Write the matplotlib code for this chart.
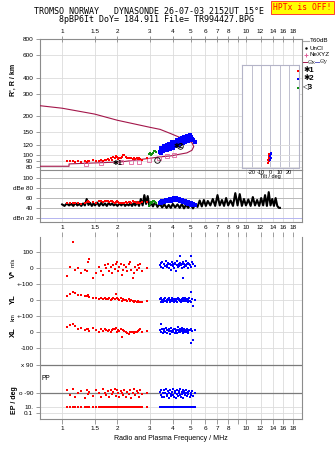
import matplotlib
matplotlib.use('Agg')
import matplotlib.pyplot as plt
from matplotlib.ticker import NullLocator
from matplotlib.lines import Line2D
import numpy as np

# ---------------- data ----------------
title1 = "TROMSO NORWAY   DYNASONDE 26-07-03 2152UT 15°E"
title2 = "8pBP6It DoY= 184.911 File= TR994427.BPG"
warn_text = "HPTx is OFF!"
xlabel = "Radio and Plasma Frequency / MHz"

freq_ticks = [1, 1.5, 2, 3, 4, 5, 6, 7, 8, 9, 10, 12, 14, 16, 18]
freq_labels_outer = ['1', '1.5', '2', '3', '4', '5', '6', '7', '8', '', '10', '12', '14', '16', '18']
freq_labels_mid = ['1', '1.5', '2', '3', '4', '5', '6', '7', '8', '9', '10', '12', '14', '16', '18']

r_ticks = [80, 90, 100, 120, 150, 200, 300, 400, 600, 800]
db_ticks = [20, 40, 60, 80, 100]
db_labels = ['dBn 20', '40', '60', 'dBe 80', '100']
tilt_ticks = [-20, -10, 0, 10, 20]

# model curve (upper branch, nose, lower branch)
curve_f = [0.75, 1.0, 1.5, 2.0, 3.0, 3.41, 3.87, 4.3, 4.77, 5.08, 5.2,
           5.08, 4.77, 4.3, 3.87, 3.41, 3.0, 2.07, 1.09, 1.09, 0.75]
curve_r = [242, 231, 208, 186, 164, 158, 147, 138, 131, 124.6, 116,
           108.5, 103.6, 100.8, 98, 96.5, 94, 88, 85, 81.5, 81.5]

nexyz_f = [1.35, 1.63, 2.09, 2.37, 2.63, 2.97, 3.37, 3.72, 4.05]
nexyz_r = [84.8, 86, 87.8, 88.7, 88.7, 91.3, 94, 97.9, 99.5]

# X1 (red) echoes
f_red = [1.06, 1.10, 1.14, 1.18, 1.22, 1.27, 1.33, 1.36, 1.38, 1.40,
         1.48, 1.52, 1.58, 1.62, 1.66, 1.70, 1.74, 1.77, 1.80, 1.84,
         1.87, 1.90, 1.93, 1.96, 1.99, 2.02, 2.05, 2.08, 2.11, 2.14,
         2.18, 2.22, 2.26, 2.30, 2.34, 2.38, 2.42, 2.46, 2.50, 2.54,
         2.58, 2.62, 2.66, 2.72, 2.88]
r_red = [89, 90, 89, 88, 89, 88, 90, 88, 89, 90,
         91, 90, 89, 91, 90, 92, 91, 93, 92, 94,
         92, 97, 95, 98, 96, 93, 95, 94, 96, 99,
         100, 97, 95, 94, 95, 94, 93, 94, 93, 94,
         93, 94, 93, 92, 95]
dbe_red = [49, 50, 49, 50, 49, 48, 50, 52, 53, 51,
           52, 50, 53, 54, 52, 55, 54, 53, 52, 54,
           53, 51, 50, 52, 53, 51, 50, 49, 50, 49,
           50, 51, 50, 52, 51, 50, 53, 52, 51, 50,
           51, 49, 50, 51, 52]
v_red = [-50, 10, 165, -10, 0, -30, -10, -20, 40, 60,
         -60, -30, 10, -20, -40, 20, 0, 30, -20, 10,
         -30, 20, -5, 30, 40, -20, 10, 30, -40, -10,
         20, 10, -20, 30, 40, -10, -60, -30, 10, -10,
         20, 0, 30, -20, 0]
yl_red = [25, 35, 52, 42, 31, 32, 28, 25, 30, 20,
          10, 15, 5, 10, 5, 12, 8, 5, 10, 0,
          8, 15, 5, 40, 10, 5, 0, 12, -5, 8,
          3, -2, -5, 5, -8, 0, -5, -10, -8, -12,
          -5, -15, -10, -12, -5]
xl_red = [30, 40, 50, 35, 20, 25, 10, 15, 20, 5,
          25, 10, 0, 15, 5, 20, 8, 5, 10, 0,
          10, 15, 20, 25, -5, 10, 5, 15, -35, 10,
          5, 0, -10, -15, -5, 0, -5, -10, -5, 0,
          5, 10, 20, 0, 5]
pp_red = [-70, -100, -60, -110, -85, -75, -120, -65, -95, -80,
          -105, -70, -90, -115, -60, -85, -100, -75, -110, -65,
          -95, -80, -60, -105, -70, -90, -115, -75, -85, -100,
          -65, -110, -80, -95, -70, -120, -85, -60, -100, -75,
          -90, -110, -70, -95, -85]
ep_red = [10, 11, 10, 9, 10, 11, 10, 9, 10, 10,
          11, 9, 10, 10, 9, 11, 10, 9, 10, 11,
          10, 9, 10, 11, 10, 9, 10, 10, 11, 9,
          10, 10, 9, 11, 10, 10, 9, 11, 10, 10,
          9, 10, 11, 10, 10]

# X2 (blue) echoes
f_blue = [3.40, 3.44, 3.47, 3.50, 3.53, 3.56, 3.60, 3.63, 3.66, 3.70,
          3.73, 3.76, 3.80, 3.83, 3.86, 3.90, 3.93, 3.96, 4.00, 4.03,
          4.06, 4.10, 4.13, 4.16, 4.20, 4.23, 4.26, 4.30, 4.33, 4.36,
          4.40, 4.43, 4.46, 4.50, 4.53, 4.56, 4.60, 4.63, 4.66, 4.70,
          4.74, 4.78, 4.82, 4.86, 4.90, 4.95, 5.00, 5.05, 5.10, 5.18,
          5.28]
r_blue = [106, 114, 104, 112, 108, 117, 109, 115, 111, 120,
          110, 118, 114, 122, 112, 121, 116, 125, 114, 123,
          118, 127, 117, 125, 121, 130, 119, 128, 123, 132,
          121, 131, 125, 135, 123, 133, 128, 138, 126, 134,
          130, 140, 128, 137, 132, 142, 130, 138, 134, 130,
          126]
dbe_blue = [50, 52, 49, 53, 51, 55, 52, 54, 56, 53,
            55, 57, 54, 56, 58, 55, 57, 59, 56, 58,
            60, 57, 59, 61, 58, 57, 59, 56, 58, 55,
            57, 54, 56, 53, 55, 52, 54, 51, 53, 50,
            52, 49, 51, 48, 50, 47, 49, 46, 48, 47,
            46]
v_blue = [20, 35, 10, 40, 5, 25, 30, 15, 45, 10,
          20, 35, 0, 25, 30, -10, 20, 40, 15, 30,
          5, 35, 25, -20, 20, 45, 10, 30, 15, 35,
          80, 20, 5, 25, 40, -60, 10, 30, 20, 45,
          15, 25, 35, 0, 30, 20, 80, 10, 40, 25,
          15]
yl_blue = [5, -10, 10, 0, -15, 8, -5, 12, -8, 3,
           -12, 6, -3, 10, -10, 2, -6, 14, -4, 7,
           -14, 0, 9, -7, 4, -11, 11, -2, 6, -9,
           1, -13, 8, -5, 12, -3, 5, -8, 10, -1,
           -6, 7, -10, 3, 15, -4, 48, -12, 6, -38,
           2]
xl_blue = [10, 46, 0, 15, -10, 20, 5, -5, 25, 8,
           -8, 12, 3, 18, -12, 6, 22, -3, 10, 0,
           15, -6, 20, 4, -10, 12, 30, -2, 8, 16,
           -4, 10, 25, 2, -8, 14, 6, 20, -5, 10,
           0, 18, 4, -6, 12, 8, -73, 20, 5, -52,
           10]
pp_blue = [-80, -100, -65, -110, -90, -70, -115, -85, -60, -95,
           -105, -75, -88, -120, -68, -92, -108, -78, -62, -98,
           -112, -72, -86, -118, -66, -94, -104, -76, -84, -100,
           -64, -110, -82, -96, -70, -116, -88, -74, -102, -90,
           -66, -108, -80, -94, -72, -114, -86, -98, -76, -104,
           -90]
ep_blue = [10, 9, 11, 10, 10, 9, 10, 11, 10, 9,
           10, 10, 11, 9, 10, 10, 9, 11, 10, 10,
           9, 10, 11, 10, 9, 10, 10, 11, 9, 10,
           10, 9, 11, 10, 10, 9, 10, 11, 10, 9,
           10, 10, 11, 9, 10, 10, 9, 11, 10, 10,
           9]

# X3 (green) echoes
f_green = [2.98, 3.02, 3.05, 3.08, 3.12, 3.16, 3.20, 3.25]
r_green = [101, 103, 100, 102, 104, 107, 108, 106]
dbe_green = [44, 48, 52, 50, 53, 55, 52, 50]

# tilt inset
tilt_red_r = [87, 89, 91, 93, 95, 97, 99, 101]
tilt_red = [-3, -2, -3, -1, -2, -1, -2, -1]
tilt_blue_r = [92, 95, 98, 101, 104]
tilt_blue = [0, 1, 0, 1, 0.5]

# black amplitude trace
f_noise = [1.00, 1.03, 1.06, 1.09, 1.12, 1.15, 1.18, 1.21, 1.24, 1.27,
           1.30, 1.33, 1.36, 1.39, 1.42, 1.45, 1.48, 1.51, 1.55, 1.59,
           1.63, 1.67, 1.71, 1.75, 1.79, 1.83, 1.87, 1.91, 1.95, 2.00,
           2.05, 2.10, 2.15, 2.20, 2.25, 2.30, 2.35, 2.40, 2.45, 2.50,
           2.56, 2.62, 2.68, 2.74, 2.80, 2.86, 2.92, 2.98, 3.05, 3.12,
           3.20, 3.30, 3.40, 3.50, 3.60, 3.70, 3.80, 3.90, 4.00, 4.12,
           4.24, 4.36, 4.48, 4.60, 4.72, 4.85, 5.00, 5.15, 5.30, 5.45,
           5.60, 5.75, 5.90, 6.05, 6.20, 6.40, 6.60, 6.80, 7.00, 7.20,
           7.40, 7.60, 7.80, 8.00, 8.25, 8.50, 8.75, 9.00, 9.25, 9.50,
           9.75, 10.0, 10.3, 10.6, 10.9, 11.2, 11.5, 11.8, 12.1, 12.4,
           12.7, 13.0, 13.3, 13.6, 13.9, 14.2, 14.5, 14.8, 15.1, 15.3]
db_noise = [47, 44, 49, 45, 48, 44, 50, 45, 48, 44,
            49, 45, 58, 46, 50, 44, 49, 45, 51, 44,
            50, 45, 49, 44, 50, 46, 49, 45, 48, 44,
            49, 45, 50, 44, 48, 45, 49, 44, 50, 45,
            52, 44, 58, 45, 66, 48, 64, 44, 50, 43,
            52, 42, 48, 41, 47, 40, 46, 40, 48, 41,
            47, 40, 48, 39, 46, 40, 47, 39, 48, 42,
            55, 43, 56, 44, 54, 45, 58, 44, 66, 45,
            56, 44, 60, 45, 55, 44, 70, 45, 68, 44,
            58, 45, 57, 44, 62, 45, 56, 44, 60, 45,
            66, 44, 72, 45, 58, 44, 60, 44, 40, 40]

# bottom panel row offsets (stacked rows in one axes)
V_OFF, YL_OFF, XL_OFF, PP_OFF = 200, 0, -200, -500
EP_BASE, EP_SCALE = -694, 21
bot_ticks = [300, 200, 100, 0, -100, -200, -300, -410, -590, -673, -715]
bot_labels = ['100', '0', '+-100', '0', '+-100', '0', '-100', 'x 90', 'o -90', '10.', '0.1']

# ---------------- styling ----------------
W_PX, H_PX = 335, 451
FONT = ['Liberation Sans', 'DejaVu Sans']
plt.rcParams['font.family'] = FONT
TICK_FS = 4.6
GRID_C = '#dcdcdc'
SPINE_C = '#8c8c8c'
RED, BLUE, GREEN = '#ff0000', '#0000ff', '#109010'
CURVE_C = '#a3164a'
PINK = '#e0609a'
MS = 1.6

def fx(x):
    return x / W_PX

def fy(y):
    return 1 - y / H_PX

fig = plt.figure(figsize=(W_PX / 100, H_PX / 100), dpi=100)
fig.patch.set_facecolor('white')

AX_L, AX_R = 39.5, 301.7
FMIN, FMAX = 0.753, 20.1


def setup_freq(ax):
    ax.set_xscale('log')
    ax.set_xlim(FMIN, FMAX)
    ax.xaxis.set_minor_locator(NullLocator())
    ax.set_xticks(freq_ticks)
    for s in ax.spines.values():
        s.set_color(SPINE_C)
        s.set_linewidth(0.8)
    ax.tick_params(colors=SPINE_C, labelcolor='black', labelsize=TICK_FS,
                   width=0.6, length=3, pad=1.5)
    ax.grid(True, color=GRID_C, lw=0.6, zorder=0)
    ax.set_axisbelow(True)


# ---- top panel: virtual range ----
ax1 = fig.add_axes([fx(AX_L), fy(170), fx(AX_R - AX_L), (170 - 39) / H_PX])
setup_freq(ax1)
ax1.set_yscale('log')
ax1.set_ylim(76.2, 800)
ax1.yaxis.set_minor_locator(NullLocator())
ax1.set_yticks(r_ticks)
ax1.set_yticklabels([str(v) for v in r_ticks])
ax1.xaxis.tick_top()
ax1.set_xticklabels(freq_labels_outer)
ax1.tick_params(axis='x', direction='inout', length=4, pad=1.5)
ax1.spines['bottom'].set_visible(False)

ax1.plot(curve_f, curve_r, color=CURVE_C, lw=0.8, zorder=3)
ax1.plot(nexyz_f, nexyz_r, ls='none', marker='s', ms=2.2, mfc='none',
         mec=PINK, mew=0.6, zorder=4)
ax1.plot(f_red, r_red, ls='none', marker='s', ms=MS, color=RED, mew=0, zorder=5)
ax1.plot(f_green, r_green, ls='none', marker='s', ms=MS, color=GREEN, mew=0, zorder=5)
ax1.plot(f_blue, r_blue, ls='none', marker='s', ms=MS + 0.6, color=BLUE, mew=0, zorder=5)
ax1.plot([3.3, 4.38], [92, 117], ls='none', marker='o', ms=4, mfc='none',
         mec='black', mew=0.6, zorder=6)
ax1.text(2.0, 86, '✱1', fontsize=5, color='black', ha='center', va='center',
         fontweight='bold', zorder=7)
ax1.text(4.28, 116, '✱2', fontsize=5, color='black', ha='center', va='center',
         fontweight='bold', zorder=7)

# ---- dB panel ----
ax2 = fig.add_axes([fx(AX_L), fy(222), fx(AX_R - AX_L), (222 - 170) / H_PX])
setup_freq(ax2)
ax2.set_ylim(11.3, 117)
ax2.set_yticks(db_ticks)
ax2.set_yticklabels(db_labels)
ax2.tick_params(axis='x', length=0, labelbottom=False)
ax2.grid(False)
for v in db_ticks:
    ax2.axhline(v, color='#b4b4f0' if v == 20 else '#b8b8b8', lw=0.7, zorder=1)
for f in freq_ticks:
    ax2.axvline(f, color=GRID_C, lw=0.6, zorder=0)
ax2.plot(f_noise, db_noise, color='black', lw=1.5, zorder=3)
ax2.plot(f_red, dbe_red, ls='none', marker='s', ms=MS + 0.3, color=RED, mew=0, zorder=5)
ax2.plot(f_green, dbe_green, ls='none', marker='s', ms=MS + 0.3, color=GREEN, mew=0, zorder=5)
ax2.plot(f_blue, dbe_blue, ls='none', marker='s', ms=MS + 0.7, color=BLUE, mew=0, zorder=5)

# ---- bottom panel: V*, YL, XL, PP, EP ----
ax3 = fig.add_axes([fx(AX_L), fy(419), fx(AX_R - AX_L), (419 - 237) / H_PX])
setup_freq(ax3)
ax3.set_ylim(-751, 397.5)
ax3.set_yticks(bot_ticks)
ax3.set_yticklabels(bot_labels)
ax3.set_xticklabels(freq_labels_outer)
ax3.tick_params(axis='x', top=False, labeltop=False, bottom=True,
                labelbottom=True, direction='out', length=3.5)
ax3.spines['top'].set_visible(False)
ax3.axhline(-410, color='#7a7a7a', lw=0.9, zorder=1)
ax3.axhline(-590, color='#7a7a7a', lw=0.9, zorder=1)

# top-side labels include "9"
sec = ax3.secondary_xaxis('top')
sec.xaxis.set_minor_locator(NullLocator())
sec.set_xticks(freq_ticks)
sec.set_xticklabels(freq_labels_mid)
sec.tick_params(colors=SPINE_C, labelcolor='black', labelsize=TICK_FS,
                width=0.6, length=3.5, pad=1.5, direction='out')
sec.spines['top'].set_visible(False)

for fs, vs, ys, xs, ps, es, col, ms in [
        (f_red, v_red, yl_red, xl_red, pp_red, ep_red, RED, MS),
        (f_blue, v_blue, yl_blue, xl_blue, pp_blue, ep_blue, BLUE, MS + 0.5)]:
    kw = dict(ls='none', marker='s', ms=ms, color=col, mew=0, zorder=5)
    ax3.plot(fs, np.asarray(vs) + V_OFF, **kw)
    ax3.plot(fs, np.asarray(ys) + YL_OFF, **kw)
    ax3.plot(fs, np.asarray(xs) + XL_OFF, **kw)
    ax3.plot(fs, np.asarray(ps) + PP_OFF, **kw)
    ax3.plot(fs, EP_BASE + EP_SCALE * np.log10(es), **kw)

# ---- tilt inset ----
axi = fig.add_axes([fx(241.7), fy(168.3), fx(299 - 241.7), (168.3 - 65) / H_PX])
axi.set_facecolor('white')
axi.set_xlim(-31, 31)
axi.set_yscale('log')
axi.set_ylim(78.6, 504)
axi.yaxis.set_minor_locator(NullLocator())
axi.set_yticks([])
axi.set_xticks(tilt_ticks)
axi.set_xticklabels([str(t) for t in tilt_ticks])
for s in axi.spines.values():
    s.set_color('#b4b4c8')
    s.set_linewidth(0.8)
for t in tilt_ticks:
    axi.axvline(t, color='#b4b4c8', lw=0.6, zorder=0)
for r in [80, 90, 100, 120]:
    axi.axhline(r, color=GRID_C, lw=0.6, zorder=0)
axi.tick_params(axis='x', length=0, labelsize=4, pad=1)
axi.set_xlabel('Tilt / deg', fontsize=4, labelpad=-0.5)
axi.plot(tilt_red, tilt_red_r, ls='none', marker='s', ms=1.8, color=RED, mew=0)
axi.plot(tilt_blue, tilt_blue_r, ls='none', marker='s', ms=1.8, color=BLUE, mew=0)

# ---------------- texts ----------------
fig.text(fx(149), fy(12), title1, family='DejaVu Sans Mono', fontsize=6,
         ha='center', va='center')
fig.text(fx(156.5), fy(20), title2, family='DejaVu Sans Mono', fontsize=6,
         ha='center', va='center')
fig.text(fx(302.5), fy(7.5), warn_text, family='DejaVu Sans Mono', fontsize=5.8,
         color='red', ha='center', va='center',
         bbox=dict(boxstyle='square,pad=0.25', fc='#ffff00', ec='#ff2020', lw=0.6))

fig.text(fx(13), fy(80), "R', R / km", rotation=90, fontsize=5, fontweight='bold',
         ha='center', va='center')
fig.text(fx(13), fy(274), "V*", rotation=90, fontsize=5.5, fontweight='bold',
         ha='center', va='center')
fig.text(fx(13), fy(262), "m/s", rotation=90, fontsize=4.2,
         ha='center', va='center')
fig.text(fx(13), fy(299), "YL", rotation=90, fontsize=5.5, fontweight='bold',
         ha='center', va='center')
fig.text(fx(13), fy(317), "km", rotation=90, fontsize=4.2,
         ha='center', va='center')
fig.text(fx(13), fy(332), "XL", rotation=90, fontsize=5.5, fontweight='bold',
         ha='center', va='center')
fig.text(fx(15), fy(400), "EP / deg", rotation=90, fontsize=5, fontweight='bold',
         ha='center', va='center')
fig.text(fx(45.5), fy(379), "PP", fontsize=4.8, ha='center', va='center')
fig.text(fx(170.6), fy(439), xlabel, fontsize=5, ha='center', va='center')

# legend in right margin
fig.add_artist(Line2D([fx(303), fx(309)], [fy(41), fy(41)], color='#a8a8a8', lw=0.8))
fig.text(fx(310), fy(41), 'T60dB', fontsize=4.5, va='center')
fig.add_artist(Line2D([fx(306)], [fy(48)], marker='.', ms=1.5, color='black', ls='none'))
fig.text(fx(310), fy(48), 'UnCl', fontsize=4.5, va='center')
fig.add_artist(Line2D([fx(306)], [fy(55)], marker='+', ms=3.5, color=PINK, mew=0.7, ls='none'))
fig.text(fx(310), fy(55), 'NeXYZ', fontsize=4.5, va='center')
fig.add_artist(Line2D([fx(303), fx(307)], [fy(62), fy(62)], color=CURVE_C, lw=0.7))
fig.text(fx(307.5), fy(62), 'Θx', fontsize=4.5, va='center', color='#404040')
fig.add_artist(Line2D([fx(315), fx(319)], [fy(62), fy(62)], color='#6060c0', lw=0.7))
fig.text(fx(319.5), fy(62), 'Θy', fontsize=4.5, va='center', color='#404040')
for yy, col, lab in [(71, RED, '✱1'), (79, BLUE, '✱2'), (88, GREEN, '◁3')]:
    fig.add_artist(Line2D([fx(298)], [fy(yy)], marker='s', ms=2, color=col, mew=0, ls='none'))
    fig.text(fx(303), fy(yy), lab, fontsize=5.5, va='center', fontweight='bold')

fig.savefig('out.png', dpi=100)
